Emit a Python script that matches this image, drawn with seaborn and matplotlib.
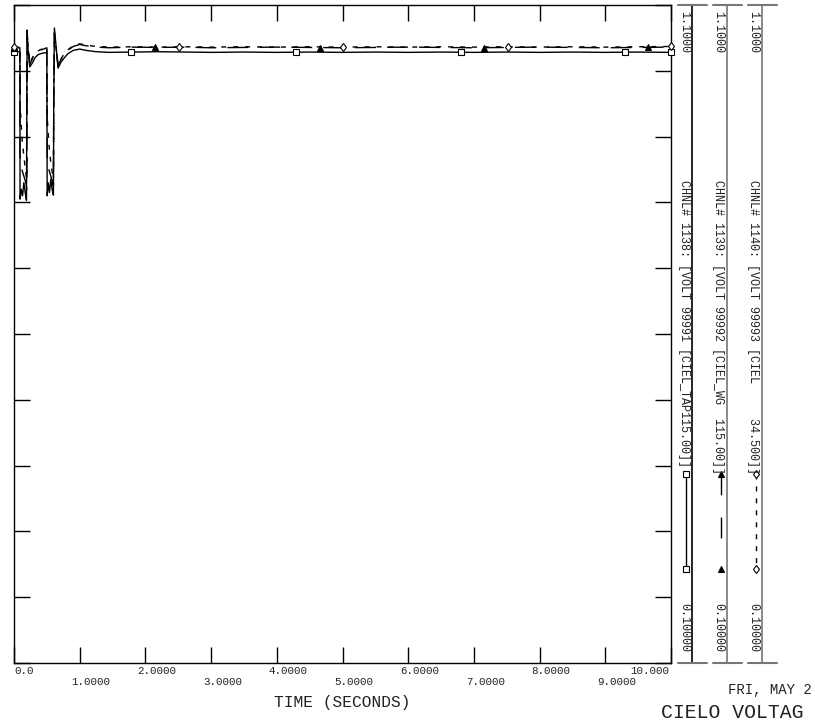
import numpy as np
import pandas as pd
import matplotlib
matplotlib.use("Agg")
import matplotlib.pyplot as plt
import seaborn as sns

# ---- data (time in seconds, voltage in pu) ----
time_1138 = [0.0, 0.09, 0.092, 0.11, 0.13, 0.15, 0.17, 0.19, 0.195, 0.20, 0.215, 0.24,
             0.28, 0.32, 0.36, 0.40, 0.45, 0.50, 0.505, 0.52, 0.54, 0.56, 0.58, 0.60,
             0.605, 0.615, 0.67, 0.72, 0.76, 0.82, 0.90, 1.00, 1.10, 1.25, 1.45, 1.8,
             2.2, 2.6, 3.0, 3.5, 4.0, 4.5, 5.0, 5.5, 6.0, 6.5, 7.0, 7.5, 8.0, 8.5, 9.0,
             9.5, 10.0]
volt_1138 = [1.029, 1.029, 0.805, 0.82, 0.81, 0.83, 0.815, 0.803, 0.95, 1.062, 1.03, 1.006,
             1.012, 1.020, 1.024, 1.026, 1.027, 1.028, 0.81, 0.83, 0.815, 0.835, 0.82, 0.811,
             0.95, 1.065, 1.004, 1.014, 1.019, 1.026, 1.031, 1.033, 1.031, 1.029, 1.028, 1.0285,
             1.029, 1.0285, 1.028, 1.0285, 1.028, 1.0285, 1.028, 1.0285, 1.028, 1.0285, 1.028, 1.0285, 1.028, 1.0285, 1.028,
             1.0285, 1.028]

time_1139 = [0.0, 0.09, 0.092, 0.12, 0.15, 0.18, 0.195, 0.20, 0.215, 0.24,
             0.28, 0.32, 0.36, 0.40, 0.45, 0.50, 0.505, 0.53, 0.56, 0.59, 0.60,
             0.605, 0.615, 0.67, 0.72, 0.76, 0.82, 0.90, 1.00, 1.10, 1.25, 1.45, 1.8,
             2.2, 2.6, 3.0, 3.5, 4.0, 4.5, 5.0, 5.5, 6.0, 6.5, 7.0, 7.5, 8.0, 8.5, 9.0,
             9.5, 10.0]
volt_1139 = [1.035, 1.035, 0.87, 0.85, 0.84, 0.83, 0.82, 1.055, 1.035, 1.010,
             1.018, 1.026, 1.029, 1.031, 1.033, 1.035, 0.87, 0.85, 0.84, 0.83, 0.825,
             0.95, 1.058, 1.008, 1.018, 1.024, 1.031, 1.037, 1.040, 1.038, 1.036, 1.035, 1.036,
             1.0355, 1.036, 1.035, 1.0355, 1.036, 1.0355, 1.035, 1.0355, 1.036, 1.0355, 1.035, 1.0355, 1.036, 1.0355, 1.035,
             1.0355, 1.036]

time_1140 = [0.0, 0.09, 0.092, 0.12, 0.15, 0.18, 0.195, 0.20, 0.215, 0.24,
             0.28, 0.32, 0.36, 0.40, 0.45, 0.50, 0.505, 0.53, 0.56, 0.59, 0.60,
             0.605, 0.615, 0.67, 0.72, 0.76, 0.82, 0.90, 1.00, 1.10, 1.25, 1.45, 1.8,
             2.2, 2.6, 3.0, 3.5, 4.0, 4.5, 5.0, 5.5, 6.0, 6.5, 7.0, 7.5, 8.0, 8.5, 9.0,
             9.5, 10.0]
volt_1140 = [1.036, 1.036, 0.95, 0.90, 0.87, 0.845, 0.835, 1.052, 1.036, 1.012,
             1.020, 1.027, 1.030, 1.032, 1.034, 1.036, 0.93, 0.89, 0.86, 0.84, 0.835,
             0.95, 1.055, 1.010, 1.019, 1.025, 1.032, 1.038, 1.041, 1.039, 1.037, 1.036, 1.0365,
             1.036, 1.0365, 1.036, 1.0365, 1.036, 1.0365, 1.036, 1.0365, 1.036, 1.0365, 1.036, 1.0365, 1.036, 1.0365, 1.036,
             1.0365, 1.037]

marker_t_1138 = [0.0, 1.78, 4.29, 6.80, 9.30, 10.0]
marker_t_1139 = [0.0, 2.15, 4.66, 7.16, 9.65]
marker_t_1140 = [0.0, 2.51, 5.01, 7.52, 10.0]

channels = ["1138", "1139", "1140"]
channel_labels = ["CHNL# 1138: [VOLT 99991 [CIEL_TAP115.00]]",
                  "CHNL# 1139: [VOLT 99992 [CIEL_WG  115.00]]",
                  "CHNL# 1140: [VOLT 99993 [CIEL     34.500]]"]
x_ticks = [0, 1, 2, 3, 4, 5, 6, 7, 8, 9, 10]
x_tick_labels = ["0.0", "1.0000", "2.0000", "3.0000", "4.0000", "5.0000",
                 "6.0000", "7.0000", "8.0000", "9.0000", "10.000"]
y_ticks = [0.1, 0.2, 0.3, 0.4, 0.5, 0.6, 0.7, 0.8, 0.9, 1.0, 1.1]
y_max_label = "1.1000"
y_min_label = "0.10000"
date_text = "FRI, MAY 2"       # cut by the page edge in the original
title_text = "CIELO VOLTAG"    # cut by the page edge in the original

sns.set_style("white")
plt.rcParams['font.family'] = ['Liberation Mono', 'DejaVu Sans Mono']

W, H = 815, 722
fig = plt.figure(figsize=(W / 100, H / 100), dpi=100)

# main axes: x 14..671 px, y 5..663 px
ax = fig.add_axes([14 / W, 1 - 663 / H, (671 - 14) / W, (663 - 5) / H])

df = pd.concat([
    pd.DataFrame({"time": time_1138, "volt": volt_1138, "channel": "1138"}),
    pd.DataFrame({"time": time_1139, "volt": volt_1139, "channel": "1139"}),
    pd.DataFrame({"time": time_1140, "volt": volt_1140, "channel": "1140"}),
])
dash_styles = {"1138": "", "1139": (15, 8), "1140": (3.6, 5)}
sns.lineplot(data=df, x="time", y="volt", style="channel", dashes=dash_styles,
             color="black", linewidth=1, estimator=None, sort=False,
             legend=False, ax=ax)

# markers placed along each trace
marker_style = {
    "1138": dict(marker="s", mfc="white", mec="black", ms=4.5),
    "1139": dict(marker="^", mfc="black", mec="black", ms=4),
    "1140": dict(marker="d", mfc="white", mec="black", ms=4.5),
}
for ch, mt, t, v in [("1138", marker_t_1138, time_1138, volt_1138),
                     ("1139", marker_t_1139, time_1139, volt_1139),
                     ("1140", marker_t_1140, time_1140, volt_1140)]:
    ax.plot(mt, np.interp(mt, t, v), ls="none", mew=0.8, clip_on=False,
            zorder=5, **marker_style[ch])

ax.set_xlim(0, 10)
ax.set_ylim(0.1, 1.1)
ax.set_xticks(x_ticks)
ax.set_yticks(y_ticks)
ax.tick_params(direction="in", length=11.5, width=1, color="black",
               top=True, right=True, bottom=True, left=True,
               labelbottom=False, labelleft=False)
ax.set_xlabel("")
ax.set_ylabel("")
for s in ax.spines.values():
    s.set_color("black")
    s.set_linewidth(1)

# x tick labels in two staggered rows
for i, (t, lab) in enumerate(zip(x_ticks, x_tick_labels)):
    dy = -8 if i % 2 == 0 else -19
    if i == 0:
        dx, ha = 0, "left"
    elif i == len(x_ticks) - 1:
        dx, ha = -2, "right"
    else:
        dx, ha = -8, "left"
    ax.annotate(lab, xy=(t, 0), xycoords=("data", "axes fraction"),
                xytext=(dx, dy), textcoords="offset pixels",
                ha=ha, va="center", fontsize=7.8, color="#222222")

# overlay in pixel coordinates for the side scales and titles
pax = fig.add_axes([0, 0, 1, 1])
pax.set_xlim(0, W)
pax.set_ylim(H, 0)
pax.axis("off")

panel_x = [692, 727, 762]
text_x = [684, 718.5, 753]
sample_x = [686, 721, 756]
line_cols = ["black", "#777777", "#777777"]
sample_dashes = {"1138": (None, None), "1139": (15, 16, 15, 30), "1140": (3.6, 5)}
for k, ch in enumerate(channels):
    x0 = panel_x[k]
    pax.plot([x0, x0], [5, 663], color=line_cols[k], lw=1.2)
    pax.plot([x0 - 14, x0 + 15], [5, 5], color="#777777", lw=1.5)
    pax.plot([x0 - 14, x0 + 15], [663, 663], color="#777777", lw=1.5)
    pax.text(text_x[k], 11, y_max_label, rotation=270, ha="center", va="top",
             fontsize=8.5, color="#222222")
    pax.text(text_x[k], 652, y_min_label, rotation=270, ha="center", va="bottom",
             fontsize=8.5, color="#222222")
    pax.text(text_x[k], 180, channel_labels[k], rotation=270, ha="center",
             va="top", fontsize=8.5, color="#222222")
    pax.plot([sample_x[k], sample_x[k]], [474, 569], color="black", lw=1,
             dashes=sample_dashes[ch], mew=0.8, **marker_style[ch])

pax.text(342, 702, "TIME (SECONDS)", ha="center", va="center", fontsize=11.7,
         color="#222222")
pax.text(728, 690, date_text, ha="left", va="center",
         fontsize=10, color="#222222")
pax.text(661, 713, title_text, ha="left", va="center", fontsize=14.2,
         color="#222222")

fig.savefig("out.png", dpi=100)
